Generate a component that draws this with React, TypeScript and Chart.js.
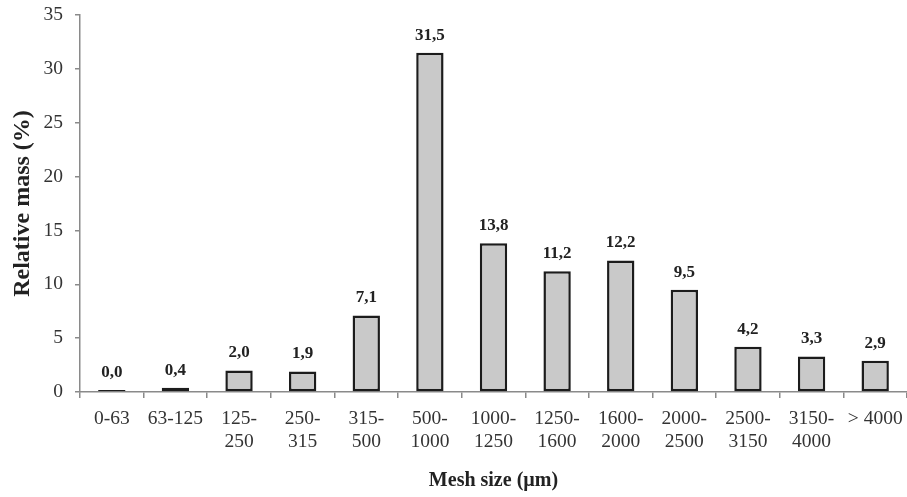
import React, { useEffect, useRef } from "react";
import { Chart, registerables } from "chart.js";

Chart.register(...registerables);

const categories: string[][] = [
  ["0-63"],
  ["63-125"],
  ["125-", "250"],
  ["250-", "315"],
  ["315-", "500"],
  ["500-", "1000"],
  ["1000-", "1250"],
  ["1250-", "1600"],
  ["1600-", "2000"],
  ["2000-", "2500"],
  ["2500-", "3150"],
  ["3150-", "4000"],
  ["> 4000"],
];

const relativeMass: number[] = [0.0, 0.4, 2.0, 1.9, 7.1, 31.5, 13.8, 11.2, 12.2, 9.5, 4.2, 3.3, 2.9];

const yTicks: number[] = [0, 5, 10, 15, 20, 25, 30, 35];

const SERIF = "'Liberation Serif', 'Times New Roman', serif";

const valueLabelPlugin = {
  id: "valueLabels",
  afterDatasetsDraw(chart: any) {
    const ctx = chart.ctx;
    const meta = chart.getDatasetMeta(0);
    ctx.save();
    ctx.font = `bold 17px ${SERIF}`;
    ctx.fillStyle = "#222";
    ctx.textAlign = "center";
    ctx.textBaseline = "bottom";
    meta.data.forEach((bar: any, i: number) => {
      const v = relativeMass[i];
      ctx.fillText(v.toFixed(1).replace(".", ","), bar.x, bar.y - 9);
    });
    ctx.restore();
  },
};

export default function App() {
  const canvasRef = useRef<HTMLCanvasElement | null>(null);

  useEffect(() => {
    if (!canvasRef.current) return;
    const chart = new Chart(canvasRef.current, {
      type: "bar",
      data: {
        labels: categories,
        datasets: [
          {
            data: relativeMass,
            backgroundColor: "#c9c9c9",
            borderColor: "#1c1c1c",
            borderWidth: 2.5,
            borderSkipped: false,
            minBarLength: 2,
            categoryPercentage: 1,
            barPercentage: 0.43,
          },
        ],
      },
      options: {
        animation: false,
        responsive: false,
        maintainAspectRatio: false,
        layout: { padding: { top: 15, left: 0, right: 0, bottom: 0 } },
        plugins: {
          legend: { display: false },
          tooltip: { enabled: false },
        },
        scales: {
          x: {
            offset: true,
            grid: {
              offset: true,
              drawOnChartArea: false,
              drawTicks: true,
              tickLength: 6,
              color: "#8a8a8a",
              lineWidth: 1.5,
            },
            border: { color: "#8a8a8a", width: 1.5 },
            ticks: {
              autoSkip: false,
              maxRotation: 0,
              minRotation: 0,
              color: "#333",
              padding: 9,
              font: { family: SERIF, size: 19.5, lineHeight: 1.2 },
            },
            title: {
              display: true,
              text: "Mesh size (µm)",
              color: "#222",
              font: { family: SERIF, size: 20, weight: "bold" },
              padding: { top: 0, bottom: 4 },
            },
            afterFit(scale: any) {
              scale.height = 105;
              scale.paddingLeft = 0;
              scale.paddingRight = 0;
            },
          },
          y: {
            min: 0,
            max: 35,
            afterBuildTicks(scale: any) {
              scale.ticks = yTicks.map((v) => ({ value: v }));
            },
            grid: {
              drawOnChartArea: false,
              drawTicks: true,
              tickLength: 5,
              color: "#8a8a8a",
              lineWidth: 1.5,
            },
            border: { color: "#8a8a8a", width: 1.5 },
            ticks: {
              color: "#333",
              padding: 12,
              font: { family: SERIF, size: 19.5 },
            },
            title: {
              display: true,
              text: "Relative mass (%)",
              color: "#222",
              font: { family: SERIF, size: 24, weight: "bold" },
              padding: { top: 8, bottom: 0 },
            },
            afterFit(scale: any) {
              scale.width = 80;
              scale.paddingTop = 0;
              scale.paddingBottom = 0;
            },
          },
        },
      },
      plugins: [valueLabelPlugin],
    });
    return () => chart.destroy();
  }, []);

  return (
    <div style={{ position: "fixed", left: 0, top: 0, width: 907, height: 497, background: "#fff" }}>
      <canvas ref={canvasRef} width={907} height={497} style={{ width: 907, height: 497 }} />
    </div>
  );
}
